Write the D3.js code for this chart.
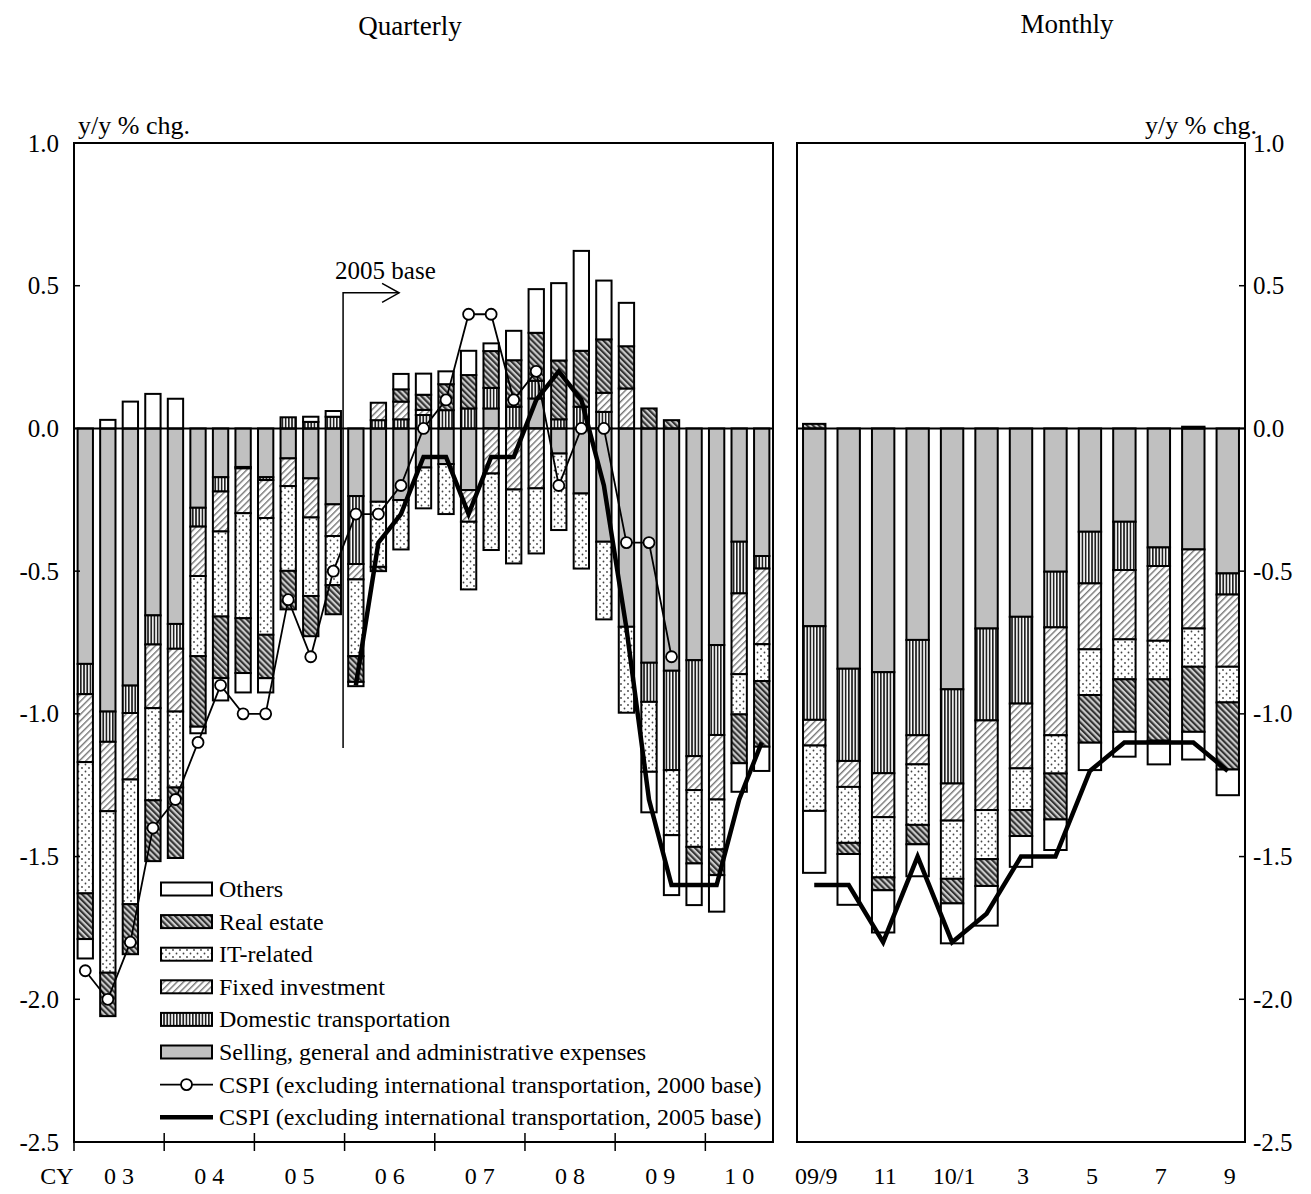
<!DOCTYPE html>
<html><head><meta charset="utf-8">
<script src="https://cdn.jsdelivr.net/npm/d3@7"></script>
<style>body{margin:0;background:#fff}svg{display:block}text{font-family:"Liberation Serif","Times New Roman",serif;fill:#000}</style>
</head><body><svg id="c" width="1311" height="1194"></svg>
<script>
// ---------- DATA ----------
const quarterLabels = ["0 3","0 4","0 5","0 6","0 7","0 8","0 9","1 0"];
const qSGA   = [-0.825,-0.992,-0.901,-0.655,-0.685,-0.278,-0.171,-0.135,-0.171,-0.105,-0.175,-0.266,-0.237,-0.257,-0.251,-0.137,-0.125,-0.216,0.070,0,0.105,-0.088,-0.228,-0.397,-0.695,-0.821,-0.849,-0.812,-0.759,-0.397,-0.447];
const qDom   = [-0.106,-0.106,-0.096,-0.102,-0.087,-0.066,-0.050,-0.005,-0.010,0.039,0.023,0.041,-0.238,0.029,0.032,0.047,0.064,0.070,0.072,0.076,0.062,0.032,0.076,0.058,0,-0.137,-0.348,-0.336,-0.315,-0.181,-0.044];
const qFix   = [-0.238,-0.243,-0.233,-0.223,-0.220,-0.173,-0.140,-0.157,-0.133,-0.097,-0.137,-0.111,-0.054,0.061,0.062,0.018,0,-0.111,-0.158,-0.214,-0.210,0,0,0.067,0.140,0,0,-0.119,-0.226,-0.283,-0.265];
const qIT    = [-0.460,-0.566,-0.437,-0.323,-0.266,-0.281,-0.298,-0.368,-0.409,-0.297,-0.275,-0.172,-0.269,-0.228,-0.173,-0.143,-0.175,-0.237,-0.268,-0.259,-0.228,-0.268,-0.263,-0.272,-0.301,-0.245,-0.228,-0.199,-0.175,-0.141,-0.129];
const qRE    = [-0.160,-0.152,-0.175,-0.213,-0.247,-0.247,-0.216,-0.192,-0.152,-0.135,-0.141,-0.102,-0.090,-0.015,0.043,0.053,0.091,0.117,0.129,0.163,0.168,0.206,0.196,0.187,0.148,0.070,0.029,-0.058,-0.090,-0.171,-0.230];
const qOth   = [-0.068,0.030,0.094,0.121,0.104,-0.023,-0.078,-0.068,-0.050,0,0.018,0.020,-0.015,0,0.054,0.074,0.045,0.085,0.027,0.103,0.153,0.271,0.350,0.206,0.152,-0.142,-0.210,-0.146,-0.128,-0.100,-0.085];
const qCSPI2000 = [-1.9,-2.0,-1.8,-1.4,-1.3,-1.1,-0.9,-1.0,-1.0,-0.6,-0.8,-0.5,-0.3,-0.3,-0.2,0.0,0.1,0.4,0.4,0.1,0.2,-0.2,0.0,0.0,-0.4,-0.4,-0.8,null,null,null,null];
const qCSPI2005 = [null,null,null,null,null,null,null,null,null,null,null,null,-0.9,-0.4,-0.3,-0.1,-0.1,-0.3,-0.1,-0.1,0.1,0.2,0.1,-0.2,-0.7,-1.3,-1.6,-1.6,-1.6,-1.3,-1.1];

const monthLabels = ["09/9","","11","","10/1","","3","","5","","7","","9"];
const mSGA = [-0.693,-0.842,-0.854,-0.741,-0.914,-0.701,-0.660,-0.502,-0.362,-0.327,-0.417,-0.424,-0.508];
const mDom = [-0.328,-0.323,-0.354,-0.334,-0.330,-0.322,-0.304,-0.195,-0.181,-0.169,-0.065,0.006,-0.074];
const mFix = [-0.090,-0.091,-0.154,-0.102,-0.130,-0.314,-0.227,-0.378,-0.231,-0.243,-0.262,-0.277,-0.253];
const mIT  = [-0.229,-0.196,-0.211,-0.212,-0.204,-0.172,-0.146,-0.134,-0.160,-0.140,-0.135,-0.134,-0.125];
const mRE  = [0.016,-0.039,-0.045,-0.068,-0.086,-0.094,-0.091,-0.161,-0.167,-0.184,-0.215,-0.228,-0.235];
const mOth = [-0.217,-0.178,-0.148,-0.112,-0.140,-0.139,-0.108,-0.107,-0.096,-0.087,-0.083,-0.097,-0.090];
const mCSPI2005 = [-1.6,-1.6,-1.8,-1.5,-1.8,-1.7,-1.5,-1.5,-1.2,-1.1,-1.1,-1.1,-1.2];

const yTicks = [1.0,0.5,0.0,-0.5,-1.0,-1.5,-2.0,-2.5];
const keys = ["sga","dom","fix","it","re","oth"];
const legendNames = ["Others","Real estate","IT-related","Fixed investment","Domestic transportation","Selling, general and administrative expenses"];
const legendKeys = ["oth","re","it","fix","dom","sga"];
const lineNames = ["CSPI (excluding international transportation, 2000 base)","CSPI (excluding international transportation, 2005 base)"];

// ---------- DRAW ----------
const svg = d3.select("#c");
const defs = svg.append("defs");
function pat(id, w, h, rot, draw){
  const p = defs.append("pattern").attr("id",id).attr("width",w).attr("height",h)
    .attr("patternUnits","userSpaceOnUse");
  if (rot) p.attr("patternTransform",`rotate(${rot})`);
  draw(p);
}
pat("pDom",3.2,4,0,p=>{p.append("rect").attr("width",3.2).attr("height",4).attr("fill","#fff");
  p.append("rect").attr("width",1.7).attr("height",4).attr("fill","#222");});
pat("pFix",4.6,4.6,45,p=>{p.append("rect").attr("width",4.6).attr("height",4.6).attr("fill","#fff");
  p.append("rect").attr("width",1.4).attr("height",4.6).attr("fill","#777");});
pat("pRE",4.2,4.2,-45,p=>{p.append("rect").attr("width",4.2).attr("height",4.2).attr("fill","#ccc");
  p.append("rect").attr("width",2.1).attr("height",4.2).attr("fill","#333");});
pat("pIT",7,7,0,p=>{p.append("rect").attr("width",7).attr("height",7).attr("fill","#fff");
  p.append("circle").attr("cx",1.5).attr("cy",1.5).attr("r",0.9).attr("fill","#444");
  p.append("circle").attr("cx",5).attr("cy",5).attr("r",0.9).attr("fill","#444");});
const fills = {sga:"#c0c0c0", dom:"url(#pDom)", fix:"url(#pFix)", it:"url(#pIT)", re:"url(#pRE)", oth:"#fff"};

const yTop = 143, yBot = 1142;
const y = d3.scaleLinear().domain([-2.5,1.0]).range([yBot, yTop]);

function rows(a){ return a[0].map((_,i)=>({i, sga:a[0][i], dom:a[1][i], fix:a[2][i], it:a[3][i], re:a[4][i], oth:a[5][i]})); }
const stack = d3.stack().keys(keys).offset(d3.stackOffsetDiverging);

function panel(x0, x1, data, padI, padO){
  const x = d3.scaleBand().domain(data.map(d=>d.i)).range([x0,x1]).paddingInner(padI).paddingOuter(padO);
  const g = svg.append("g");
  const series = stack(data);
  series.forEach(s=>{
    g.append("g").selectAll("rect").data(s.filter(d=>Math.abs(d[1]-d[0])>1e-9)).join("rect")
      .attr("x",d=>x(d.data.i)).attr("width",x.bandwidth())
      .attr("y",d=>y(Math.max(d[0],d[1]))).attr("height",d=>Math.abs(y(d[0])-y(d[1])))
      .attr("fill",fills[s.key]).attr("stroke","#000").attr("stroke-width",2);
  });
  g.append("line").attr("x1",x0).attr("x2",x1).attr("y1",y(0)).attr("y2",y(0)).attr("stroke","#000").attr("stroke-width",2);
  g.append("rect").attr("x",x0).attr("y",yTop).attr("width",x1-x0).attr("height",yBot-yTop)
    .attr("fill","none").attr("stroke","#000").attr("stroke-width",2);
  return x;
}

const qx = panel(74, 773, rows([qSGA,qDom,qFix,qIT,qRE,qOth]), 0.32, 0.16);
const mx = panel(797, 1245, rows([mSGA,mDom,mFix,mIT,mRE,mOth]), 0.35, 0.175);

// Lines
const qc = i => qx(i)+qx.bandwidth()/2;
const mc = i => mx(i)+mx.bandwidth()/2;
const l2000 = qCSPI2000.map((v,i)=>({i,v}));
const l2005 = qCSPI2005.map((v,i)=>({i,v}));
const lineQ = d3.line().defined(d=>d.v!=null).x(d=>qc(d.i)).y(d=>y(d.v));
svg.append("path").attr("d",lineQ(l2000)).attr("fill","none").attr("stroke","#000").attr("stroke-width",1.8);
svg.append("g").selectAll("circle").data(l2000.filter(d=>d.v!=null)).join("circle")
  .attr("cx",d=>qc(d.i)).attr("cy",d=>y(d.v)).attr("r",5.5).attr("fill","#fff").attr("stroke","#000").attr("stroke-width",1.8);
svg.append("path").attr("d",lineQ(l2005)).attr("fill","none").attr("stroke","#000").attr("stroke-width",4.5).attr("stroke-linejoin","miter");
const lineM = d3.line().x(d=>mc(d.i)).y(d=>y(d.v));
svg.append("path").attr("d",lineM(mCSPI2005.map((v,i)=>({i,v})))).attr("fill","none").attr("stroke","#000").attr("stroke-width",4.5);

// Y axes
const fmt = v => v.toFixed(1);
const tf = 25;
svg.append("g").selectAll("text").data(yTicks).join("text").attr("x",59).attr("y",d=>y(d)+8.5)
  .attr("text-anchor","end").attr("font-size",tf).text(fmt);
svg.append("g").selectAll("text").data(yTicks).join("text").attr("x",1253).attr("y",d=>y(d)+8.5)
  .attr("text-anchor","start").attr("font-size",tf).text(fmt);
svg.append("g").selectAll("line").data(yTicks).join("line").attr("x1",74).attr("x2",80).attr("y1",d=>y(d)).attr("y2",d=>y(d)).attr("stroke","#000").attr("stroke-width",1.5);
svg.append("g").selectAll("line").data(yTicks).join("line").attr("x1",1239).attr("x2",1245).attr("y1",d=>y(d)).attr("y2",d=>y(d)).attr("stroke","#000").attr("stroke-width",1.5);
svg.append("text").attr("x",78).attr("y",134).attr("font-size",26).text("y/y % chg.");
svg.append("text").attr("x",1257).attr("y",134).attr("text-anchor","end").attr("font-size",26).text("y/y % chg.");

// X axis (quarterly)
const step = qx.step();
const yearIdx = d3.range(8);
svg.append("g").selectAll("line").data(yearIdx).join("line")
  .attr("x1",k=>74+4*k*step).attr("x2",k=>74+4*k*step).attr("y1",yBot-9).attr("y2",yBot+9)
  .attr("stroke","#000").attr("stroke-width",1.5);
const xf = 24;
svg.append("g").selectAll("text").data(quarterLabels).join("text")
  .attr("x",(t,k)=> k<7 ? 74+(4*k+2)*step : qc(29)).attr("y",1184).attr("text-anchor","middle")
  .attr("font-size",xf).text(t=>t);
svg.append("text").attr("x",57).attr("y",1184).attr("text-anchor","middle").attr("font-size",xf).text("CY");
svg.append("g").selectAll("text").data(monthLabels).join("text")
  .attr("x",(t,i)=>mc(i)+2).attr("y",1184).attr("text-anchor","middle").attr("font-size",xf).text(t=>t);

// Titles
svg.append("text").attr("x",410).attr("y",35).attr("text-anchor","middle").attr("font-size",27).text("Quarterly");
svg.append("text").attr("x",1067).attr("y",33).attr("text-anchor","middle").attr("font-size",27).text("Monthly");

// 2005 base annotation
const bx = 74 + 12*step - 1.5;
svg.append("path").attr("d",`M${bx},${y(-1.12)}V${y(0.475)}H${bx+56}`).attr("fill","none").attr("stroke","#000").attr("stroke-width",1.5);
svg.append("path").attr("d",`M${bx+39},${y(0.475)-9.5}L${bx+56},${y(0.475)}L${bx+39},${y(0.475)+9.5}`).attr("fill","none").attr("stroke","#000").attr("stroke-width",1.5);
svg.append("text").attr("x",bx-8).attr("y",y(0.475)-14).attr("font-size",25).text("2005 base");

// Legend
const lg = svg.append("g");
const ly0 = 889, ldy = 32.6, lf = 24;
legendKeys.forEach((k,j)=>{
  const yy = ly0 + j*ldy;
  lg.append("rect").attr("x",161).attr("y",yy-6.5).attr("width",51).attr("height",13).attr("fill",fills[k]).attr("stroke","#000").attr("stroke-width",2);
  lg.append("text").attr("x",219).attr("y",yy+8).attr("font-size",lf).text(legendNames[j]);
});
[0,1].forEach(j=>{
  const yy = ly0 + (6+j)*ldy;
  lg.append("line").attr("x1",160).attr("x2",213).attr("y1",yy).attr("y2",yy).attr("stroke","#000").attr("stroke-width",j?4.5:1.8);
  if(!j) lg.append("circle").attr("cx",186.5).attr("cy",yy).attr("r",5.5).attr("fill","#fff").attr("stroke","#000").attr("stroke-width",1.8);
  lg.append("text").attr("x",219).attr("y",yy+8).attr("font-size",lf).text(lineNames[j]);
});
</script></body></html>
